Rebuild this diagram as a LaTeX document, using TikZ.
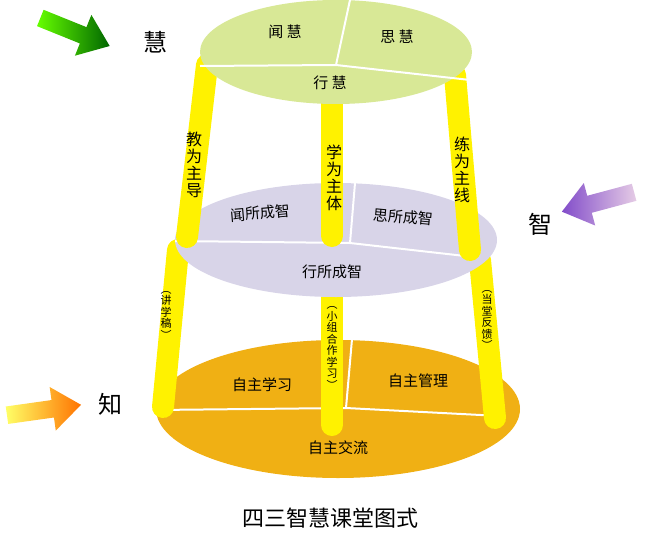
\documentclass[tikz,border=0pt]{standalone}
\usepackage{fontspec}
\setmainfont{Noto Sans CJK SC}
\usetikzlibrary{positioning}
\definecolor{topgreen}{RGB}{216,232,150}
\definecolor{midlav}{RGB}{216,212,232}
\definecolor{botorange}{RGB}{240,176,20}
\definecolor{pillar}{RGB}{255,242,0}
\tikzset{
  pil/.style={line width=22pt,pillar,line cap=round},
  sep/.style={white,line width=2pt},
  lab/.style={font=\fontsize{15}{17}\selectfont},
  vlab/.style={font=\fontsize{16}{17}\selectfont,align=center},
  small/.style={font=\fontsize{11}{11.5}\selectfont,align=center},
  big/.style={font=\fontsize{24}{26}\selectfont}
}
\newcommand{\fatarrow}[4]{% pos, angle, left colour, right colour
  \shade[left color=#3,right color=#4,shift={#1},rotate=#2,scale=1.1]
    (-34,-8)--(8,-8)--(8,-20)--(34,0)--(8,20)--(8,8)--(-34,8)--cycle;}
\begin{document}
\begin{tikzpicture}[x=1pt,y=-1pt]
\useasboundingbox (0,0) rectangle (660,535);
% bottom layer
\fill[botorange] (338,409) ellipse [x radius=182,y radius=69];
\draw[sep] (155,410)--(346,408)--(500,416);
\draw[sep] (352,339)--(346,408);
\node[lab] (zzxx) at (262,385) {自主学习};
\node[lab] (zzgl) at (418,381) {自主管理};
\node[lab] (zzjl) at (338,448) {自主交流};
% lower pillars
\draw[pil] (178,250)--(163,407);
\draw[pil] (332,260)--(332,425);
\draw[pil] (480,260)--(495,418);
\node[small] (jxg) at (166,315) {︵\\讲\\学\\稿\\︶};
\node[small] (xzh) at (332,348) {︵\\小\\组\\合\\作\\学\\习\\︶};
\node[small] (dtfk) at (487,320) {︵\\当\\堂\\反\\馈\\︶};
% middle layer
\fill[midlav] (336,240) ellipse [x radius=161,y radius=57];
\draw[sep] (175,241)--(350,243)--(465,256);
\draw[sep] (355,183)--(350,243);
% upper pillars
\draw[pil] (207,65)--(187,237);
\draw[pil] (332,100)--(332,236);
\draw[pil] (455,75)--(470,250);
\node[vlab] (jwzd) at (194,165) {教\\为\\主\\导};
\node[vlab] (xwzt) at (334,178) {学\\为\\主\\体};
\node[vlab] (lwzx) at (462,170) {练\\为\\主\\线};
\node[lab,rotate=5] (wscz) at (260,213) {闻所成智};
\node[lab,rotate=-5] (sscz) at (403,217) {思所成智};
\node[lab] (xscz) at (332,272) {行所成智};
% top layer
\fill[topgreen] (336,52) ellipse [x radius=136,y radius=52];
\draw[sep] (200,66)--(336,65)--(470,80);
\draw[sep] (350,0)--(336,65);
\node[lab] (wh) at (285,32) {闻 慧};
\node[lab] (sh) at (397,37) {思 慧};
\node[lab] (xh) at (330,83) {行 慧};
% side arrows and words
\fatarrow{(75,32)}{-22}{green!60!yellow}{green!40!black}
\fatarrow{(598,202)}{-165}{violet!60!blue!70}{violet!20}
\fatarrow{(44,410)}{8}{yellow!60}{orange!90!red}
\node[big] (hui) at (155,42) {慧};
\node[big] (zhi) at (540,224) {智};
\node[big] (zhi2) at (110,404) {知};
\node[font=\fontsize{22}{24}\selectfont] (title) at (330,518) {四三智慧课堂图式};
\end{tikzpicture}
\end{document}
